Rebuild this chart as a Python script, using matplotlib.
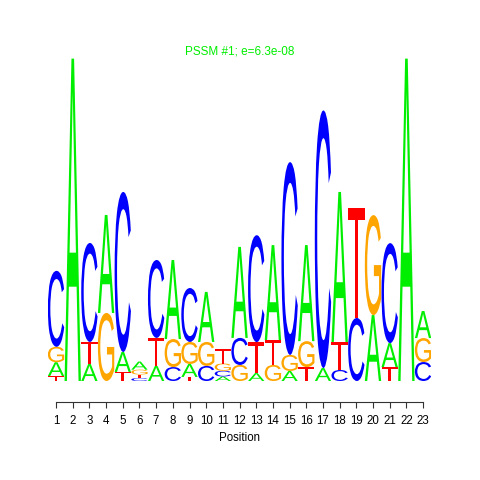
import matplotlib
matplotlib.use("Agg")
import matplotlib.pyplot as plt
from matplotlib.textpath import TextPath
from matplotlib.patches import PathPatch
from matplotlib.font_manager import FontProperties
from matplotlib.transforms import Affine2D

# Information content (bits) per letter at each position
positions = list(range(1, 24))
A = [0.085, 1.99, 0.105, 0.605, 0.123, 0.050, 0.093, 0.488, 0.080, 0.309, 0.028, 0.562,
     0.049, 0.586, 0.062, 0.593, 0.080, 0.926, 0.000, 0.407, 0.148, 1.99, 0.167]
C = [0.469, 0.000, 0.611, 0.000, 0.988, 0.018, 0.481, 0.086, 0.333, 0.093, 0.035, 0.167,
     0.660, 0.000, 1.190, 0.000, 1.590, 0.068, 0.389, 0.000, 0.617, 0.000, 0.117]
G = [0.095, 0.000, 0.000, 0.420, 0.000, 0.030, 0.000, 0.173, 0.136, 0.148, 0.045, 0.099,
     0.000, 0.099, 0.099, 0.160, 0.000, 0.000, 0.000, 0.617, 0.000, 0.000, 0.148]
T = [0.031, 0.000, 0.136, 0.000, 0.056, 0.022, 0.173, 0.000, 0.025, 0.000, 0.090, 0.000,
     0.191, 0.154, 0.000, 0.086, 0.000, 0.173, 0.679, 0.000, 0.086, 0.000, 0.000]
title = "PSSM #1; e=6.3e-08"
xlabel = "Position"

colors = {"A": "#00ee00", "C": "#0000ff", "G": "#ffa500", "T": "#ff0000"}
fp = FontProperties(family="Liberation Sans")

fig = plt.figure(figsize=(4.8, 4.8), dpi=100)
ax = fig.add_axes([47.7 / 480, 99 / 480, 383.7 / 480, 324 / 480])
ax.set_xlim(0.5, 23.5)
ax.set_ylim(0, 2)

def draw_letter(ch, x, y0, h):
    if h <= 0.001:
        return
    tp = TextPath((0, 0), ch, size=1, prop=fp)
    bb = tp.get_extents()
    w = 0.98
    tr = (Affine2D().translate(-bb.x0, -bb.y0)
          .scale(w / bb.width, h / bb.height)
          .translate(x - w / 2, y0))
    path = tr.transform_path(tp)
    ax.add_patch(PathPatch(path, facecolor=colors[ch], edgecolor="none", lw=0))

for i, p in enumerate(positions):
    col = [("A", A[i]), ("C", C[i]), ("G", G[i]), ("T", T[i])]
    col.sort(key=lambda t: t[1])
    y = 0.0
    for ch, h in col:
        draw_letter(ch, p, y, h)
        y += h

for s in ["top", "right", "left"]:
    ax.spines[s].set_visible(False)
ax.spines["bottom"].set_position(("outward", 15.1))
ax.spines["bottom"].set_bounds(1, 23)
ax.spines["bottom"].set_color("#333333")
ax.spines["bottom"].set_linewidth(0.8)
ax.set_yticks([])
ax.set_xticks(positions)
ax.set_xticklabels([str(p) for p in positions], fontproperties=fp, fontsize=8.3)
ax.tick_params(axis="x", direction="out", length=4.3, width=0.8, color="#333333", pad=5)

fig.text(240 / 480, 1 - 52 / 480, title, ha="center", va="center",
         color="#00ee00", fontproperties=fp, fontsize=8.5)
fig.text(240 / 480, 1 - 438 / 480, xlabel, ha="center", va="center",
         fontproperties=fp, fontsize=8.3)

fig.savefig("out.png", dpi=100)
